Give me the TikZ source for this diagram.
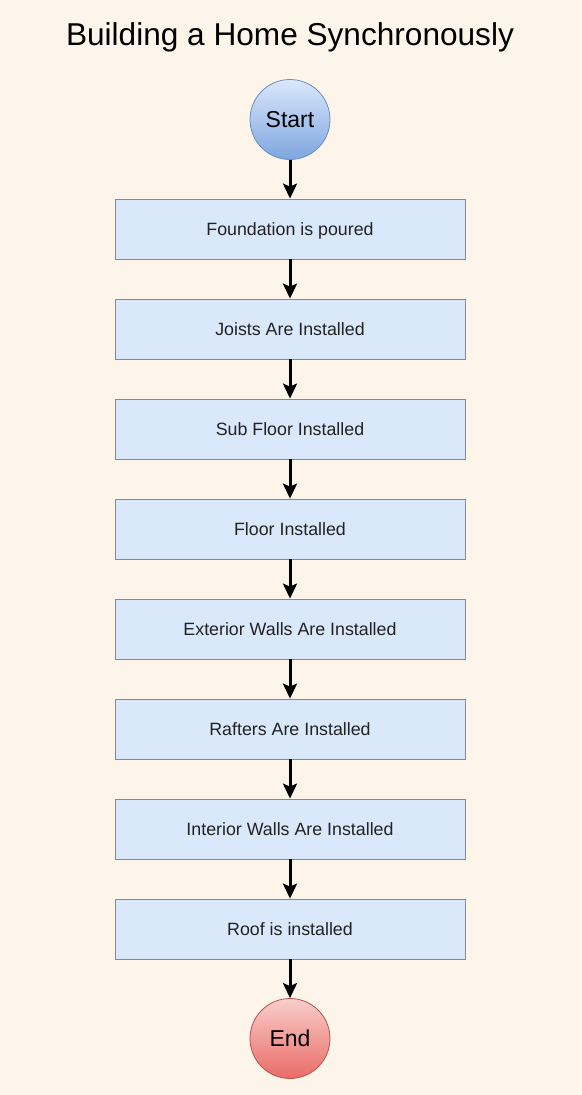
\documentclass[tikz,border=0pt]{standalone}
\usepackage{fontspec}
\setmainfont{Liberation Sans}
\usetikzlibrary{arrows.meta}
\definecolor{bg}{HTML}{FDF5E9}
\definecolor{boxfill}{HTML}{DAE8FC}
\definecolor{boxline}{HTML}{6C8EBF}
\definecolor{blueDark}{HTML}{7EA6E0}
\definecolor{redLight}{HTML}{F8CECC}
\definecolor{redDark}{HTML}{EA6B66}
\definecolor{redLine}{HTML}{B85450}
\definecolor{txt}{HTML}{222222}
\tikzset{
  stepbox/.style={draw=boxline, fill=boxfill, line width=0.8pt, minimum width=350pt, minimum height=60pt, inner sep=0pt, text=txt, font=\fontsize{17.8}{21}\selectfont, text height=12.8pt, text depth=0pt},
  startc/.style={circle, draw=boxline, line width=0.8pt, top color=boxfill, bottom color=blueDark, minimum size=80pt, inner sep=0pt, font=\fontsize{23}{27}\selectfont, text height=16.5pt, text depth=0pt},
  endc/.style={circle, draw=redLine, line width=0.8pt, top color=redLight, bottom color=redDark, minimum size=80pt, inner sep=0pt, font=\fontsize{23}{27}\selectfont, text height=16.5pt, text depth=0pt},
  flow/.style={-{Stealth[length=15pt,width=14pt,inset=3pt]}, line width=3pt, black}
}
\begin{document}
\begin{tikzpicture}[x=1pt,y=-1pt]
\fill[bg] (0,0) rectangle (581,1095);
\useasboundingbox (0,0) rectangle (581,1095);
\node[anchor=base, font=\fontsize{31.6}{36}\selectfont, inner sep=0pt] (title) at (290,45) {Building a Home Synchronously};
\node[startc] (start) at (290,119.5) {Start};
\node[stepbox] (b1) at (290,229) {Foundation is poured};
\node[stepbox] (b2) at (290,329) {Joists Are Installed};
\node[stepbox] (b3) at (290,429) {Sub Floor Installed};
\node[stepbox] (b4) at (290,529) {Floor Installed};
\node[stepbox] (b5) at (290,629) {Exterior Walls Are Installed};
\node[stepbox] (b6) at (290,729) {Rafters Are Installed};
\node[stepbox] (b7) at (290,829) {Interior Walls Are Installed};
\node[stepbox] (b8) at (290,929) {Roof is installed};
\node[endc] (end) at (290,1038.5) {End};
\draw[flow] (start) -- (b1);
\draw[flow] (b1) -- (b2);
\draw[flow] (b2) -- (b3);
\draw[flow] (b3) -- (b4);
\draw[flow] (b4) -- (b5);
\draw[flow] (b5) -- (b6);
\draw[flow] (b6) -- (b7);
\draw[flow] (b7) -- (b8);
\draw[flow] (b8) -- (end);
\end{tikzpicture}
\end{document}
